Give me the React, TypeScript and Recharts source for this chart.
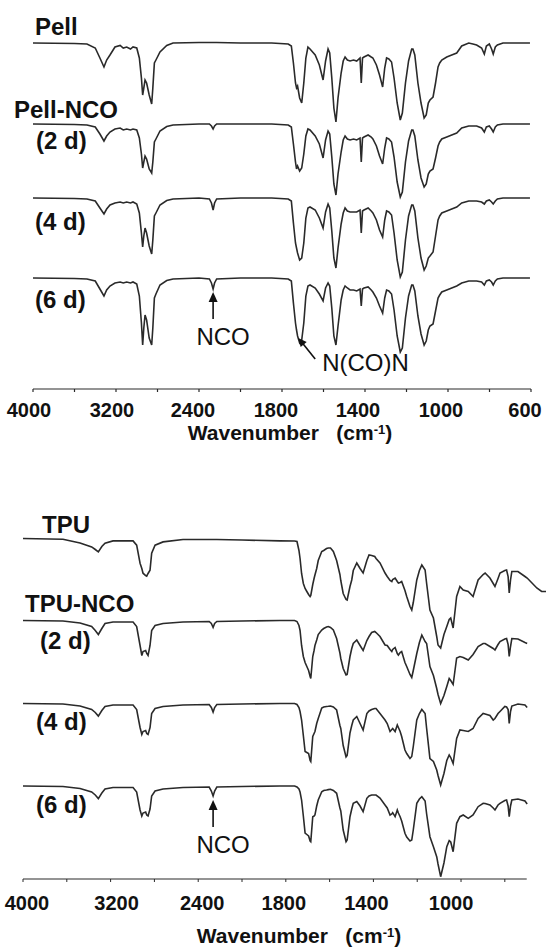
import React from 'react';
import { LineChart, Line, XAxis, YAxis, ReferenceDot, ReferenceLine } from 'recharts';

const FONT = '"Liberation Sans", Arial, Helvetica, sans-serif';
const INK = '#2a2a2a';

// Broken wavenumber axis: 800 cm-1 per major tick above 2000, 400 cm-1 per major tick below.
const toU = (w: number) => (w >= 2000 ? (4000 - w) / 800 : 2.5 + (2000 - w) / 400);

const TOP_TICKS = [0, 0.5, 1, 1.5, 2, 2.5, 3, 3.5, 4, 4.5, 5, 5.5, 6];
const TOP_TICK_LABELS = ['4000', '3200', '2400', '1800', '1400', '1000', '600'];
const TOP_LABEL_DX = [-4, -4, -6, -6, -7, -7, -6];
const BOTTOM_TICKS = [0, 0.5, 1, 1.5, 2, 2.5, 3, 3.5, 4, 4.5, 5, 5.5];
const BOTTOM_TICK_LABELS = ['4000', '3200', '2400', '1800', '1400', '1000'];
const BOTTOM_LABEL_DX = [4, 6, 4, -2, -7, -10];

// ---------- Pell family (wavenumbers, cm-1) ----------
const PELL_WN = [
  4000, 3600, 3480, 3400, 3355, 3316, 3290, 3258, 3210, 3160,
  3130, 3097, 3060, 3036, 3000, 2975, 2955, 2943, 2932, 2920,
  2905, 2880, 2856, 2845, 2830, 2815, 2776, 2711, 2650, 2400,
  2300, 2280, 2264, 2250, 2230, 2000, 1850, 1770, 1755, 1745,
  1735, 1730, 1725, 1715, 1705, 1695, 1685, 1675, 1665, 1640,
  1620, 1602, 1590, 1578, 1570, 1560, 1550, 1540, 1530, 1515,
  1505, 1496, 1485, 1472, 1455, 1440, 1424, 1418, 1412, 1405,
  1385, 1370, 1362, 1345, 1330, 1315, 1305, 1296, 1285, 1272,
  1260, 1245, 1230, 1220, 1205, 1190, 1175, 1169, 1160, 1145,
  1130, 1115, 1105, 1095, 1087, 1072, 1060, 1048, 1040, 1030,
  1006, 982, 958, 934, 900, 880, 862, 838, 825, 815,
  801, 790, 782, 772, 762, 735, 700, 605,
];
// transmittance relative to each trace's baseline (a.u.)
const PELL = [
  0, -0.5, -1, -5, -15, -24, -17, -12, -4, -2.5,
  -5, -4, -6, -4, -5, -15, -35, -52, -45, -37,
  -40, -52, -61, -45, -20, -17, -9, -2.5, 0, 0.5,
  0.5, 0.5, 0.5, 0.5, 0.5, 0, 0, -1, -3, -20,
  -40, -45, -43, -55, -60, -40, -15, -4, -6, -12,
  -22, -37, -18, -6, -10, -35, -65, -79, -55, -30,
  -18, -14, -17, -18, -17, -18, -15, -40, -15, -14,
  -12, -14, -15, -22, -32, -44, -25, -15, -16, -19,
  -35, -60, -77, -70, -40, -18, -6, -6, -12, -40,
  -60, -75, -72, -60, -57, -54, -40, -24, -20, -17,
  -14, -12, -10, -3, 0, -1, -2, -5, -11, -3,
  -1, -6, -11, -4, -2, 0, 0, 0,
];
const PELL_NCO_2D = [
  0, -0.5, -1, -3, -10, -17, -12, -8, -5, -4,
  -6, -5, -6, -5, -6, -14, -30, -44, -38, -32,
  -35, -45, -49, -38, -18, -15, -7, -2.5, -1, 0,
  0, -2, -5, -2, 0, 0, 0, -1, -3, -20,
  -38, -45, -42, -47, -44, -30, -12, -5, -6, -12,
  -20, -34, -16, -7, -10, -33, -60, -71, -50, -28,
  -16, -12, -15, -16, -15, -16, -14, -38, -14, -13,
  -11, -13, -15, -22, -32, -40, -24, -14, -15, -18,
  -33, -58, -73, -68, -38, -17, -6, -6, -12, -36,
  -54, -63, -60, -50, -47, -45, -34, -22, -18, -15,
  -13, -11, -9, -4, -2, -2, -2, -4, -8, -3,
  -2, -5, -8, -3, -1, 0, 0, 0,
];
const PELL_NCO_4D = [
  0, -0.5, -1, -3, -10, -16, -11, -7, -5, -4,
  -5, -4, -5, -4, -6, -15, -35, -49, -38, -30,
  -35, -48, -56, -42, -18, -15, -7, -2.5, -1, 0,
  -1, -5, -12, -5, -1, 0, 0, -1, -3, -25,
  -45, -50, -55, -62, -60, -45, -20, -10, -9, -12,
  -20, -30, -14, -6, -10, -33, -60, -70, -50, -26,
  -15, -10, -13, -14, -14, -14, -12, -35, -13, -12,
  -10, -13, -15, -22, -32, -39, -22, -13, -14, -17,
  -35, -62, -79, -74, -42, -18, -7, -7, -13, -40,
  -60, -72, -68, -60, -58, -54, -38, -22, -18, -15,
  -13, -11, -9, -5, -3, -3, -3, -4, -6, -3,
  -2, -4, -6, -3, -1, 0, 0, 0,
];
const PELL_NCO_6D = [
  0, -0.5, -1, -3, -11, -18, -12, -8, -5, -4,
  -5, -4, -5, -4, -6, -18, -45, -67, -50, -37,
  -42, -60, -67, -50, -20, -16, -7, -2.5, -1, 0,
  -1, -5, -11, -5, -1, 0, 0, -1, -3, -25,
  -45, -52, -58, -65, -62, -45, -18, -8, -7, -10,
  -16, -23, -10, -5, -8, -30, -58, -67, -48, -22,
  -12, -8, -10, -12, -12, -13, -11, -28, -11, -10,
  -9, -12, -14, -20, -28, -35, -20, -12, -13, -16,
  -32, -58, -74, -70, -40, -18, -7, -7, -13, -38,
  -56, -67, -63, -52, -48, -46, -33, -20, -17, -14,
  -12, -10, -8, -5, -3, -3, -3, -4, -7, -3,
  -2, -4, -7, -3, -1, 0, 0, 0,
];
const PELL_BASELINES = [346, 265, 191, 111];

// ---------- TPU family (wavenumbers, cm-1) ----------
const TPU_WN = [
  4000, 3635, 3479, 3373, 3340, 3312, 3280, 3251, 3178, 2995,
  2962, 2931, 2915, 2904, 2880, 2870, 2858, 2840, 2825, 2794,
  2721, 2539, 2300, 2280, 2264, 2250, 2230, 2000, 1827, 1760,
  1749, 1740, 1735, 1728, 1720, 1712, 1704, 1696, 1689, 1686,
  1677, 1671, 1667, 1659, 1652, 1636, 1627, 1614, 1606, 1596,
  1583, 1568, 1553, 1549, 1538, 1525, 1520, 1507, 1499, 1492,
  1476, 1461, 1447, 1430, 1420, 1408, 1394, 1388, 1370, 1347,
  1337, 1324, 1316, 1312, 1301, 1291, 1286, 1278, 1271, 1256,
  1248, 1233, 1225, 1218, 1202, 1190, 1179, 1164, 1157, 1142,
  1126, 1111, 1105, 1093, 1078, 1065, 1054, 1047, 1036, 1020,
  1005, 990, 967, 945, 922, 899, 890, 868, 853, 845,
  831, 822, 800, 792, 785, 780, 774, 768, 740, 708,
  698, 654, 632, 612,
];
const TPU = [
  0, -0.7, -4.4, -8.4, -11, -13.4, -8, -4.7, -2.4, -2.4,
  -6.7, -24.7, -30, -34.7, -37, -37.7, -35, -31.7, -14.7, -6.7,
  -3.4, -1, -1, -1, -1, -1, -1, -1.5, -2.4, -2.5,
  -3, -12, -20, -35, -45, -50, -53, -56, -58, -57,
  -46, -40, -36.5, -30, -22, -13, -12, -10, -9.5, -9.5,
  -13, -22, -36, -42, -55, -61, -61.5, -48, -41.5, -32,
  -24.5, -30, -34.5, -22, -16.5, -17, -18, -20, -24.5, -34.5,
  -38, -42, -43, -41, -39.5, -43, -44.5, -44, -43, -52,
  -58, -68, -71.5, -64, -41.5, -32, -26.5, -31.5, -45, -71.5,
  -79.5, -98, -106.5, -109.5, -96, -88, -81, -79.5, -89.5, -58,
  -48, -51.5, -53, -58, -41.5, -36, -34.5, -39.5, -45, -48,
  -40, -34.5, -32, -31.5, -38, -54.5, -41.5, -33, -33, -38,
  -39.5, -49.5, -53, -53,
];
const TPU_NCO_2D = [
  0, -0.5, -2.5, -6, -10, -14, -8, -3, -1.5, -1.5,
  -6, -25, -35, -31, -30, -33, -35, -25, -10, -5,
  -3, -1.5, -1, -3, -7, -3, -1, -0.5, 0, 0,
  -1, -5, -10, -25, -36, -42, -46, -50, -56, -58,
  -36, -30, -25, -19.5, -14, -9.5, -8, -6.5, -6, -7,
  -9.5, -18, -32.5, -38, -48, -54.5, -54, -36, -28, -23,
  -19.5, -25, -30, -20, -16, -12, -11, -12, -16, -24.5,
  -25, -29, -31, -29, -27, -33, -34.5, -32, -31, -42,
  -46, -54, -57, -50, -33, -22, -14.5, -21, -23, -46,
  -55, -68, -74, -83, -75, -66, -58, -60, -64, -37.5,
  -36, -37, -39.5, -34, -26, -23, -23, -26, -28, -29.5,
  -24, -21, -18.5, -18, -24, -36, -26, -18, -18.5, -22,
  -23, null, null, null,
];
const TPU_NCO_4D = [
  0, -0.5, -2.5, -6, -9, -12.6, -7, -3, -1.5, -1.5,
  -6, -24, -31, -28, -27, -30, -31, -24, -10, -5,
  -3, -1.5, -1, -4, -8.6, -4, -1, -0.5, 0, 0,
  -1, -4, -8, -16.5, -32, -48, -49, -50, -57, -58,
  -33, -30, -28, -20, -15, -4.5, -3.5, -3, -2.8, -2.5,
  -3.5, -6.5, -22, -25, -42, -53.5, -52, -29.5, -22, -16.5,
  -13, -20, -26.5, -10, -7.5, -6, -5, -5, -10, -16.5,
  -20, -28, -26, -25, -28, -21.5, -24, -28, -33, -46.5,
  -50, -55, -53, -43, -16.5, -10, -6, -10, -25, -55,
  -58, -66.5, -72, -81.5, -70, -57, -51.5, -54, -60, -35,
  -26.5, -27, -28, -25, -15, -10, -10.5, -12, -16.5, -15,
  -10, -8, -3, -3.5, -6, -20, -8, -2.5, -0.5, -1.5,
  -4, null, null, null,
];
const TPU_NCO_6D = [
  0, -0.5, -2.5, -6, -9, -12.6, -7, -3, -1.5, -1.5,
  -6, -24, -30, -27, -26, -29, -30, -23, -10, -5,
  -3, -1.5, -1, -5, -10, -5, -1, -0.5, 0, 0,
  -1, -3, -6, -14, -30, -47, -48.5, -50, -55, -55.7,
  -30.7, -30, -29, -20, -14, -5.7, -4.5, -4, -3.6, -3.3,
  -4.5, -7.3, -22, -25, -44, -55.7, -54, -30.7, -23, -17.3,
  -15.5, -20, -25.7, -12.3, -10, -9, -9, -9, -12, -19,
  -22, -29, -28, -26.7, -30.7, -24, -27, -30.7, -35, -47.3,
  -51, -55, -54, -44, -17.3, -13, -10.7, -15, -28, -50.7,
  -60.7, -70.7, -78, -90.7, -77, -60.7, -54.7, -56, -65.7, -37.3,
  -30.7, -29, -32.3, -29, -20.7, -17.3, -17.5, -19, -22, -24,
  -19, -17.3, -14.5, -14, -20, -30.7, -20, -14, -13, -15,
  -18, null, null, null,
];
const TPU_BASELINES = [340.5, 258.5, 175.5, 93];

type Pt = { x: number; y: number };
const build = (wn: number[], vals: (number | null)[], base: number): Pt[] => {
  const out: Pt[] = [];
  wn.forEach((w, i) => {
    const v = vals[i];
    if (v !== null && v !== undefined) out.push({ x: toU(w), y: base + v });
  });
  return out;
};

const topSeries = [PELL, PELL_NCO_2D, PELL_NCO_4D, PELL_NCO_6D].map((s, i) => build(PELL_WN, s, PELL_BASELINES[i]));
const bottomSeries = [TPU, TPU_NCO_2D, TPU_NCO_4D, TPU_NCO_6D].map((s, i) => build(TPU_WN, s, TPU_BASELINES[i]));

const makeTick = (labels: string[], dxs: number[], dy: number) => (props: any) => {
  const { x, y, payload } = props;
  const v = payload.value as number;
  const idx = Math.round(v);
  if (Math.abs(v - idx) > 1e-6 || labels[idx] === undefined) return <g />;
  return (
    <text x={x + dxs[idx]} y={y + dy} textAnchor="middle" fontFamily={FONT} fontWeight="bold" fontSize={20} fill="#111">
      {labels[idx]}
    </text>
  );
};

const upArrow = (text: string) => (props: any) => {
  const { cx, cy } = props;
  return (
    <g>
      <line x1={cx} y1={cy + 8} x2={cx} y2={cy + 27} stroke="#111" strokeWidth={1.6} />
      <polygon points={`${cx},${cy} ${cx - 4.5},${cy + 10} ${cx + 4.5},${cy + 10}`} fill="#111" />
      <text x={cx + 10} y={cy + 53} textAnchor="middle" fontFamily={FONT} fontSize={24} fill="#111">
        {text}
      </text>
    </g>
  );
};

const diagArrow = (text: string) => (props: any) => {
  const { cx, cy } = props;
  return (
    <g>
      <line x1={cx + 5} y1={cy + 6} x2={cx + 17} y2={cy + 21} stroke="#111" strokeWidth={1.6} />
      <polygon points={`${cx},${cy} ${cx + 8.5},${cy + 4} ${cx + 2.5},${cy + 9}`} fill="#111" />
      <text x={cx + 24} y={cy + 33} textAnchor="start" fontFamily={FONT} fontSize={24} fill="#111">
        {text}
      </text>
    </g>
  );
};

const Lbl = ({ x, base, children, size = 24, bold = true }: any) => (
  <div
    style={{
      position: 'absolute',
      left: x,
      top: base - 0.8465 * size,
      fontFamily: FONT,
      fontSize: size,
      lineHeight: 1,
      fontWeight: bold ? 'bold' : 'normal',
      color: '#111',
      whiteSpace: 'pre',
    }}
  >
    {children}
  </div>
);

const Title = ({ cx, base }: any) => (
  <div
    style={{
      position: 'absolute',
      left: cx - 200,
      width: 400,
      textAlign: 'center',
      top: base - 0.8465 * 21,
      fontFamily: FONT,
      fontSize: 21,
      lineHeight: 1,
      fontWeight: 'bold',
      color: '#111',
      whiteSpace: 'pre',
    }}
  >
    {'Wavenumber   (cm'}
    <span style={{ position: 'relative', top: -6, fontSize: 13 }}>-1</span>
    {')'}
  </div>
);

export default function App() {
  return (
    <div style={{ position: 'absolute', left: 0, top: 0, width: 546, height: 947, background: '#fff', overflow: 'hidden' }}>
      <div style={{ position: 'absolute', left: 0, top: 0 }}>
        <LineChart width={546} height={440} margin={{ top: 0, right: 15, bottom: 0, left: 33 }}>
          <XAxis
            type="number"
            dataKey="x"
            domain={[0, 6]}
            ticks={TOP_TICKS}
            tick={makeTick(TOP_TICK_LABELS, TOP_LABEL_DX, 25)}
            tickSize={3}
            tickMargin={0}
            height={51}
            stroke={INK}
            strokeWidth={1.2}
            interval={0}
          />
          <YAxis type="number" domain={[0, 389]} hide />
          {topSeries.map((d, i) => (
            <Line key={'t' + i} data={d} dataKey="y" type="linear" dot={false} stroke={INK} strokeWidth={1.6} isAnimationActive={false} />
          ))}
          <ReferenceDot x={toU(2264)} y={PELL_BASELINES[3] - 14} r={0} shape={upArrow('NCO')} />
          <ReferenceDot x={toU(1722)} y={PELL_BASELINES[3] - 60} r={0} shape={diagArrow('N(CO)N')} />
        </LineChart>
      </div>
      <div style={{ position: 'absolute', left: 0, top: 470 }}>
        <LineChart width={546} height={477} margin={{ top: 0, right: 0, bottom: 0, left: 23 }}>
          <XAxis
            type="number"
            dataKey="x"
            domain={[0, 5.97]}
            ticks={BOTTOM_TICKS}
            tick={makeTick(BOTTOM_TICK_LABELS, BOTTOM_LABEL_DX, 28)}
            tickSize={3}
            tickMargin={0}
            height={68}
            axisLine={false}
            stroke={INK}
            interval={0}
          />
          <YAxis type="number" domain={[0, 409]} hide />
          <ReferenceLine segment={[{ x: 0, y: 0 }, { x: 5.75, y: 0 }]} stroke={INK} strokeWidth={1.2} />
          {bottomSeries.map((d, i) => (
            <Line key={'b' + i} data={d} dataKey="y" type="linear" dot={false} stroke={INK} strokeWidth={1.6} isAnimationActive={false} />
          ))}
          <ReferenceDot x={toU(2264)} y={TPU_BASELINES[3] - 14} r={0} shape={upArrow('NCO')} />
        </LineChart>
      </div>

      <Lbl x={35} base={35}>Pell</Lbl>
      <Lbl x={14} base={118}>Pell-NCO</Lbl>
      <Lbl x={36} base={149}>(2 d)</Lbl>
      <Lbl x={35} base={230}>(4 d)</Lbl>
      <Lbl x={35} base={308}>(6 d)</Lbl>
      <Title cx={290} base={440} />

      <Lbl x={42} base={533}>TPU</Lbl>
      <Lbl x={25} base={612}>TPU-NCO</Lbl>
      <Lbl x={40} base={649}>(2 d)</Lbl>
      <Lbl x={36} base={730}>(4 d)</Lbl>
      <Lbl x={36} base={813}>(6 d)</Lbl>
      <Title cx={299} base={943} />
    </div>
  );
}
